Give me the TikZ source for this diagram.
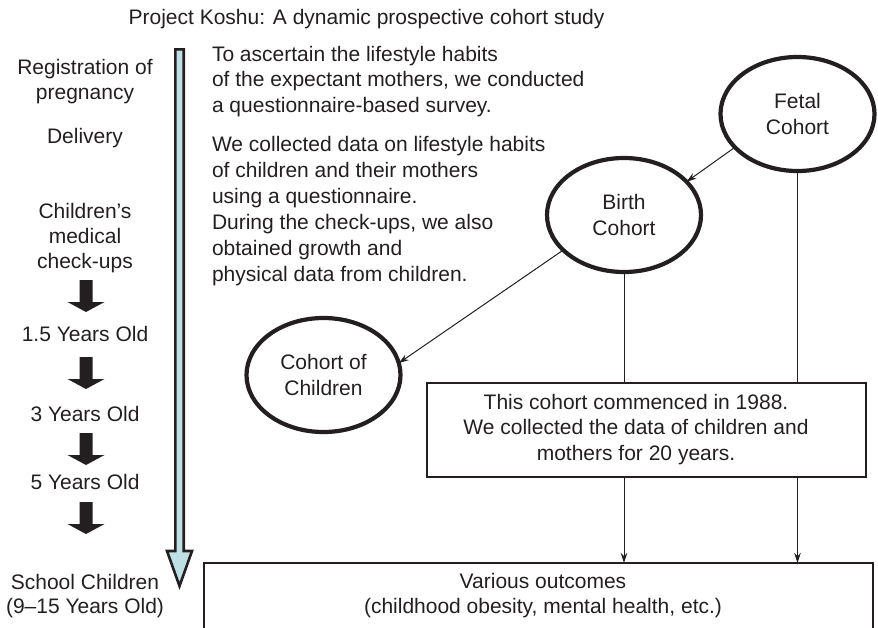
\documentclass[tikz,border=0pt]{standalone}
\usepackage{fontspec}
\setmainfont{Liberation Sans}
\usetikzlibrary{arrows.meta,shapes.geometric}
\definecolor{ink}{HTML}{231F20}
\definecolor{pale}{RGB}{190,224,229}
\begin{document}
\begin{tikzpicture}[x=1pt,y=-1pt,
  every node/.style={font=\fontsize{21}{25.5}\selectfont, text=ink, inner sep=0pt, outer sep=0pt},
  cohort/.style={ellipse, draw=ink, line width=4.2pt, minimum width=154pt, minimum height=114pt, align=center},
  conn/.style={draw=ink, line width=1pt, -{Stealth[length=10pt,width=6.5pt]}},
  plain/.style={draw=ink, line width=1pt},
  blockarrow/.style={fill=ink, draw=none}]
\useasboundingbox (0,0) rectangle (878,627);
\clip (0,0) rectangle (878,627);

% title
\node[anchor=base] (title) at (366.5,24) {Project Koshu: A dynamic prospective cohort study};

% time line arrow
\draw[line width=2.6pt, fill=pale, draw=ink, line join=miter]
  (175.3,49.3) -- (183.7,49.3) -- (183.7,551) -- (192,551) -- (179.5,586)
  -- (167,551) -- (175.3,551) -- cycle;

% left column
\node[anchor=base] (l1) at (85,74) {Registration of};
\node[anchor=base] (l2) at (85,99) {pregnancy};
\node[anchor=base] (l3) at (85,143) {Delivery};
\node[anchor=base] (l4) at (85,218) {Children’s};
\node[anchor=base] (l5) at (85,243) {medical};
\node[anchor=base] (l6) at (85,268) {check-ups};
\node[anchor=base] (l7) at (85,341) {1.5 Years Old};
\node[anchor=base] (l8) at (85,421) {3 Years Old};
\node[anchor=base] (l9) at (85,489) {5 Years Old};
\node[anchor=base] (l10) at (85,589) {School Children};
\node[anchor=base] (l11) at (85,613) {(9–15 Years Old)};

\foreach \t in {280,357,433,502}{
  \fill[blockarrow] (79.5,\t) -- (92.5,\t) -- (92.5,\t+22) -- (104.5,\t+22)
    -- (86,\t+32) -- (67.5,\t+22) -- (79.5,\t+22) -- cycle;
}

% text blocks (base anchor = last line)
\node[anchor=base west, align=left] (b1) at (212,112)
  {To ascertain the lifestyle habits\\of the expectant mothers, we conducted\\a questionnaire-based survey.};
\node[anchor=base west, align=left, font=\fontsize{21}{26}\selectfont] (b2) at (212,281)
  {We collected data on lifestyle habits\\of children and their mothers\\using a questionnaire.\\During the check-ups, we also\\obtained growth and\\physical data from children.};

% cohorts
\node[cohort] (fetal) at (797.5,114) {Fetal\\Cohort};
\node[cohort] (birth) at (624,215) {Birth\\Cohort};
\node[cohort] (kids) at (323.5,375) {Cohort of\\Children};

% boxes
\node[draw=ink, line width=1.2pt, minimum width=439pt, minimum height=94pt] (mid) at (646.5,430) {};
\node[anchor=base, align=center] (midtext) at (636,460)
  {This cohort commenced in 1988.\\We collected the data of children and\\mothers for 20 years.};
\node[draw=ink, line width=1.2pt, minimum width=669pt, minimum height=100pt] (out) at (538.5,613) {};
\node[anchor=base, align=center] (outtext) at (543,613.5)
  {Various outcomes\\(childhood obesity, mental health, etc.)};

% connectors
\draw[conn] (fetal.208) -- (birth.28);
\draw[conn] (birth.210) -- (kids.9);
\draw[plain] (birth.south) -- (birth.south |- mid.north);
\draw[plain] (fetal.south) -- (fetal.south |- mid.north);
\draw[conn] (birth.south |- mid.south) -- (birth.south |- out.north);
\draw[conn] (fetal.south |- mid.south) -- (fetal.south |- out.north);
\end{tikzpicture}
\end{document}
